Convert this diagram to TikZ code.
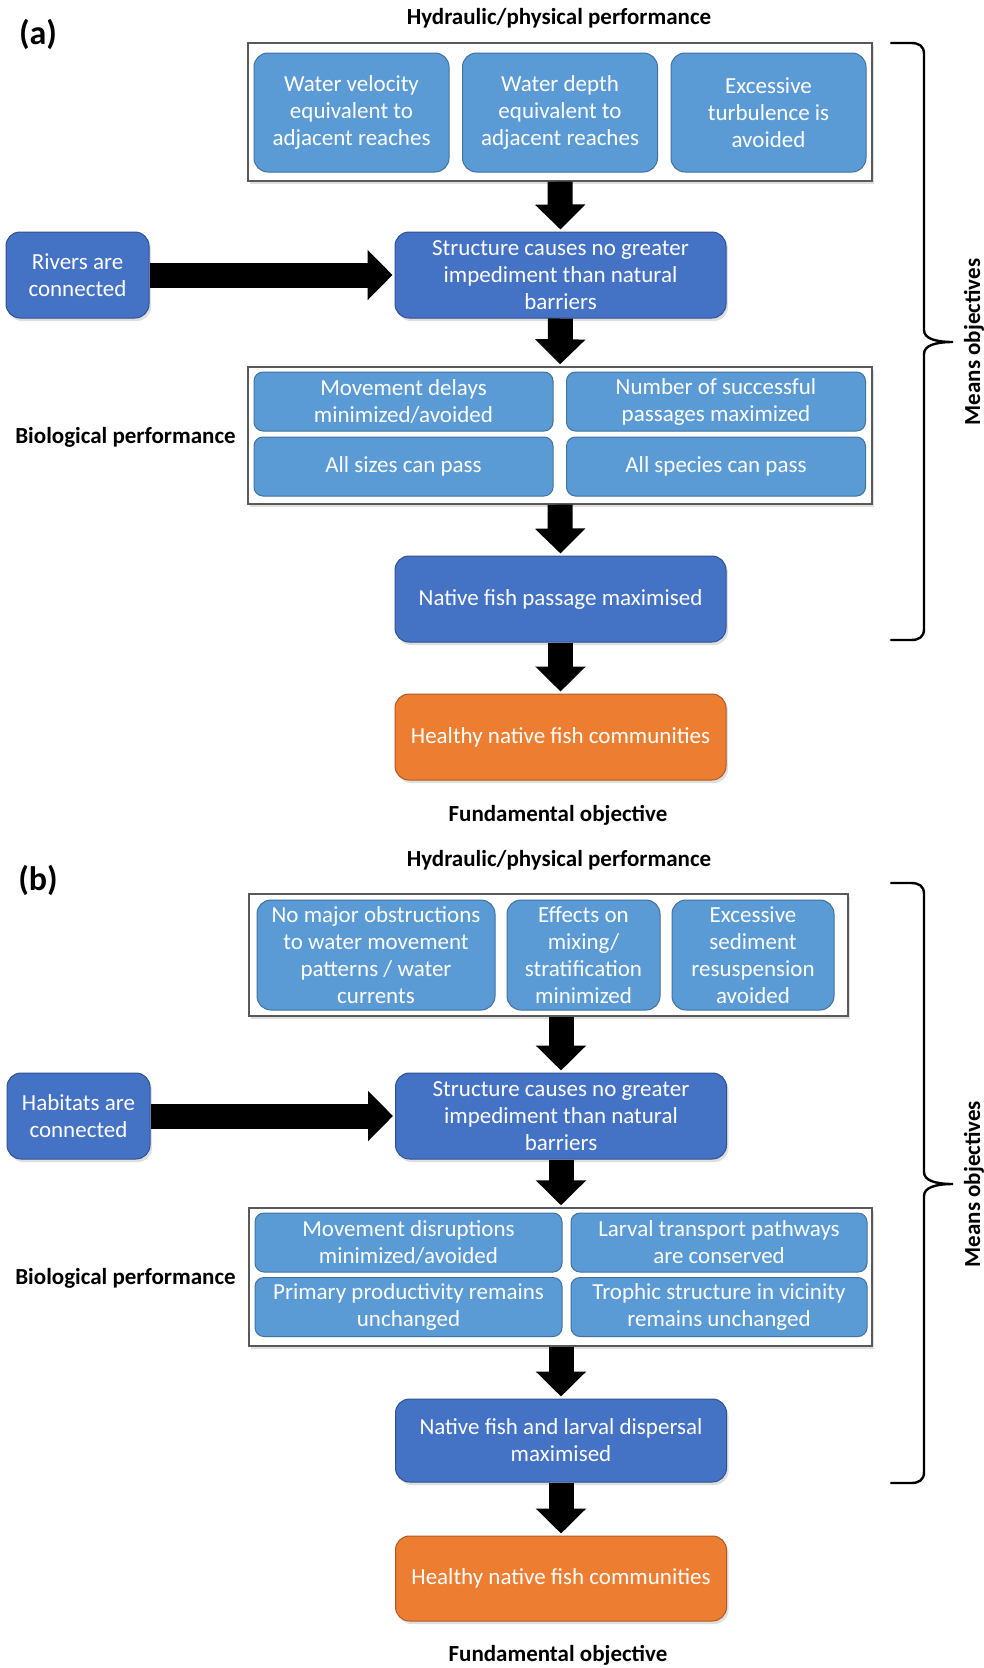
\documentclass[tikz,border=0pt]{standalone}
\usepackage{fontspec}
\setmainfont{Carlito}
\usetikzlibrary{arrows.meta,shadows}

\definecolor{paleblue}{HTML}{5B9BD5}
\definecolor{paleline}{HTML}{41719C}
\definecolor{deepblue}{HTML}{4472C4}
\definecolor{deepline}{HTML}{2F528F}
\definecolor{fishorange}{HTML}{ED7D31}
\definecolor{orangeline}{HTML}{AE5A21}

\newcommand{\objfont}{\fontsize{23}{27}\selectfont}
\newcommand{\headfont}{\fontsize{23}{27}\selectfont\bfseries}
\newcommand{\tagfont}{\fontsize{34}{38}\selectfont\bfseries}

\begin{document}
\begin{tikzpicture}[x=1pt,y=-1pt,
  softshadow/.style={drop shadow={shadow xshift=2pt,shadow yshift=-3pt,opacity=.25}},
  panel/.style={draw=black!65,line width=1.4pt,fill=white,softshadow,inner sep=0pt},
  means/.style={draw=deepline,fill=deepblue,line width=1pt,rounded corners=14pt,text=white,
    align=center,font=\objfont,inner sep=0pt,minimum width=331pt,minimum height=86pt,softshadow},
  fundamental/.style={means,draw=orangeline,fill=fishorange},
  hydbox/.style={draw=paleline,fill=paleblue,line width=1pt,rounded corners=14pt,text=white,
    align=center,font=\objfont,inner sep=0pt,minimum height=119pt},
  biobox/.style={hydbox,rounded corners=9pt,minimum height=59pt},
  bigarrow/.style={line width=25pt,-{Triangle[length=25pt,width=49pt]},shorten >=2pt},
  meansline/.style={line width=2.4pt,line cap=round},
  ]
 \useasboundingbox (0,0) rectangle (984,1668);

 % (a) fish passage
 \node[font=\tagfont] (tagA) at (38,34) {(a)};
 \node[font=\headfont] (hydlabA) at (559,18) {Hydraulic/physical performance};
 \node[panel,minimum width=624pt,minimum height=138pt] (hydA) at (560,112) {};
 \foreach \n/\x/\t in {velA/351.5/{Water velocity\\equivalent to\\adjacent reaches},
   depthA/560/{Water depth\\equivalent to\\adjacent reaches},
   turbA/768.5/{Excessive\\turbulence is\\avoided}}
   \node[hydbox,minimum width=195pt] (\n) at (\x,112.5) {\t};
 \node[means,minimum width=143pt] (riversA) at (77.5,275) {Rivers are\\connected};
 \node[means] (structA) at (560.5,275) {Structure causes no greater\\impediment than natural\\barriers};
 \node[font=\headfont] (biolabA) at (125.5,437) {Biological performance};
 \node[panel,minimum width=624pt,minimum height=137pt] (bioA) at (560,435.5) {};
 \foreach \n/\x/\y/\t in {delayA/403.5/401.5/{Movement delays\\minimized/avoided},
   passA/716/401.5/{Number of successful\\passages maximized},
   sizeA/403.5/466.5/{All sizes can pass},
   speciesA/716/466.5/{All species can pass}}
   \node[biobox,minimum width=299pt] (\n) at (\x,\y) {\t};
 \node[means] (nativeA) at (560.5,599) {Native fish passage maximised};
 \node[fundamental] (healthyA) at (560.5,737) {Healthy native fish communities};
 \node[font=\headfont] (fundlabA) at (558,815) {Fundamental objective};

 \draw[bigarrow] (hydA.south) -- (structA.north);
 \draw[bigarrow] (riversA.east) -- (structA.west);
 \draw[bigarrow] (structA.south) -- (bioA.north);
 \draw[bigarrow] (bioA.south) -- (nativeA.north);
 \draw[bigarrow] (nativeA.south) -- (healthyA.north);

 % (b) larval dispersal
 \node[font=\tagfont] (tagB) at (38,880) {(b)};
 \node[font=\headfont] (hydlabB) at (559,860) {Hydraulic/physical performance};
 \node[panel,minimum width=599pt,minimum height=122pt] (hydB) at (548.5,955) {};
 \foreach \n/\x/\w/\t in {obstrB/376/238/{No major obstructions\\to water movement\\patterns / water\\currents},
   mixB/583.5/153/{Effects on\\mixing/\\stratification\\minimized},
   sedB/753/162/{Excessive\\sediment\\resuspension\\avoided}}
   \node[hydbox,minimum width=\w pt,minimum height=110pt] (\n) at (\x,955) {\t};
 \node[means,minimum width=143pt] (habitatsB) at (78.5,1116) {Habitats are\\connected};
 \node[means] (structB) at (561,1116) {Structure causes no greater\\impediment than natural\\barriers};
 \node[font=\headfont] (biolabB) at (125.5,1278) {Biological performance};
 \node[panel,minimum width=623pt,minimum height=138pt] (bioB) at (560.5,1277) {};
 \foreach \n/\x/\y/\w/\t in {disruptB/408.5/1242.5/307/{Movement disruptions\\minimized/avoided},
   larvalB/719/1242.5/296/{Larval transport pathways\\are conserved},
   primaryB/408.5/1307/307/{Primary productivity remains\\unchanged},
   trophicB/719/1307/296/{Trophic structure in vicinity\\remains unchanged}}
   \node[biobox,minimum width=\w pt] (\n) at (\x,\y) {\t};
 \node[means,minimum height=83pt] (nativeB) at (561,1440.5) {Native fish and larval dispersal\\maximised};
 \node[fundamental,minimum height=85pt] (healthyB) at (561,1578.5) {Healthy native fish communities};
 \node[font=\headfont] (fundlabB) at (558,1655) {Fundamental objective};

 \draw[bigarrow] (structB.north |- hydB.south) -- (structB.north);
 \draw[bigarrow] (habitatsB.east) -- (structB.west);
 \draw[bigarrow] (structB.south) -- (structB.south |- bioB.north);
 \draw[bigarrow] (nativeB.north |- bioB.south) -- (nativeB.north);
 \draw[bigarrow] (nativeB.south) -- (healthyB.north);

 % means objectives brackets
 \foreach \top/\mid/\bot/\n in {43/342/640/meansA,883/1184/1483/meansB} {
   \draw[meansline] (891,\top) -- (911,\top)
     .. controls (919,\top) and (924,\top+3) .. (924,\top+11) -- (924,\mid-12)
     .. controls (924,\mid-4) and (934,\mid) .. (953,\mid)
     .. controls (934,\mid) and (924,\mid+4) .. (924,\mid+12) -- (924,\bot-11)
     .. controls (924,\bot-3) and (919,\bot) .. (911,\bot) -- (891,\bot);
   \node[font=\headfont,rotate=90] (\n) at (974,\mid) {Means objectives};
 }
\end{tikzpicture}
\end{document}
